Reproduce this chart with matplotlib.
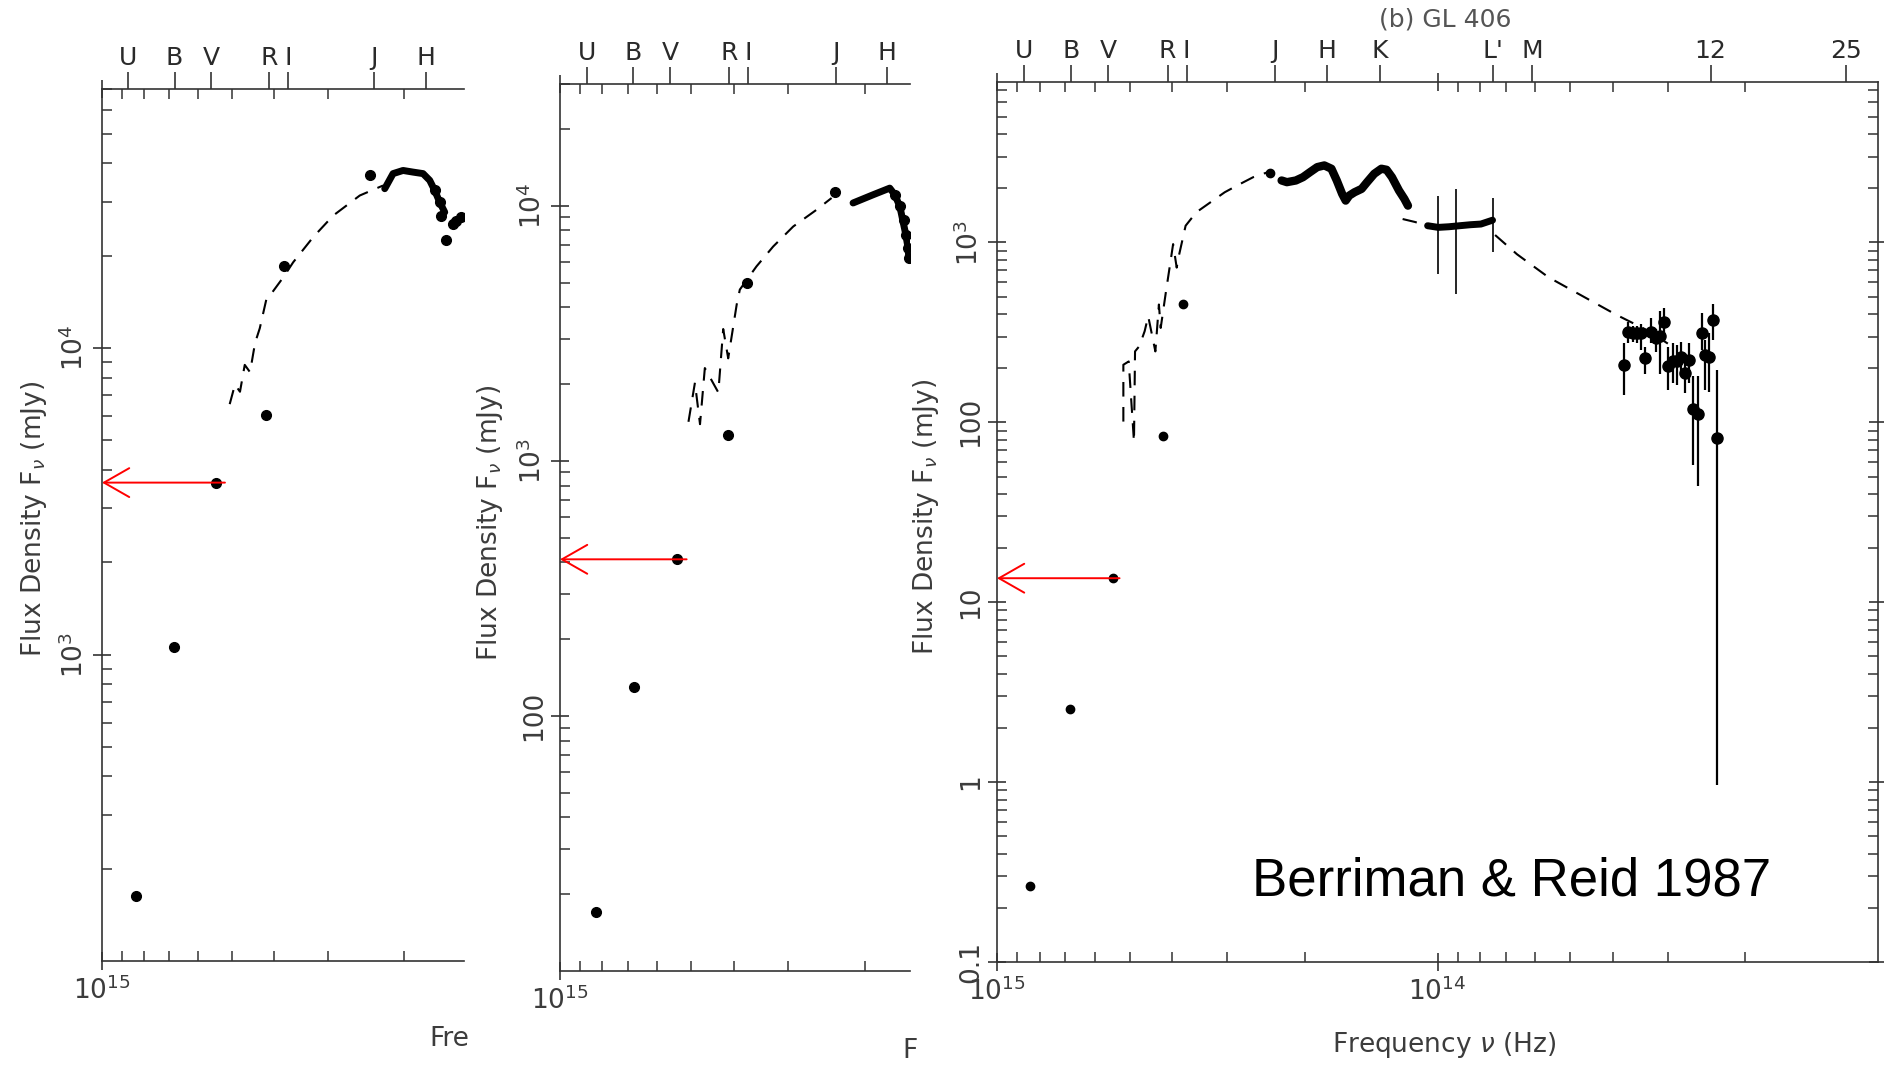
import matplotlib
matplotlib.use("Agg")
import matplotlib.pyplot as plt
from matplotlib.ticker import FixedLocator, FixedFormatter, NullLocator, LogLocator, NullFormatter

# ---------------- data ----------------
band_nu = [8.69e14, 6.79e14, 5.59e14, 4.10e14, 3.71e14, 2.34e14, 1.78e14,
           1.35e14, 7.48e13, 6.09e13, 2.40e13, 1.18e13]
band_labels = ['U', 'B', 'V', 'R', 'I', 'J', 'H', 'K', "L'", 'M', '12', '25']

# panel 1
p1_phot_nu = [8.34e14, 6.82e14, 5.45e14, 4.17e14, 3.79e14, 2.39e14]
p1_phot_F = [163, 1059, 3638, 6060, 18460, 36700]
p1_dash_nu = [5.06e14, 4.92e14, 4.79e14, 4.67e14, 4.54e14, 4.42e14, 4.31e14, 4.16e14,
              4.085e14, 3.803e14, 3.606e14, 3.242e14, 2.914e14, 2.528e14, 2.233e14]
p1_dash_F = [6560, 7600, 7200, 8810, 8340, 10390, 11600, 14450,
             14820, 17000, 19050, 23000, 27040, 31450, 33900]
p1_spec_nu = [2.213e14, 2.117e14, 2.007e14, 1.902e14, 1.804e14, 1.741e14, 1.695e14,
              1.651e14, 1.607e14]
p1_spec_F = [33100, 37070, 37960, 37490, 37070, 35240, 32660, 29930, 27740]
p1_dots_nu = [1.695e14, 1.651e14, 1.636e14, 1.593e14, 1.537e14, 1.51e14, 1.47e14]
p1_dots_F = [32660, 29930, 26900, 22430, 25410, 26000, 26720]

# panel 2
p2_phot_nu = [8.27e14, 6.77e14, 5.41e14, 4.12e14, 3.73e14, 2.35e14]
p2_phot_F = [17.0, 130, 411, 1264, 5000, 11270]
p2_dash_nu = [5.08e14, 4.91e14, 4.78e14, 4.66e14, 4.34e14, 4.23e14, 4.12e14, 3.94e14,
              3.875e14, 3.55e14, 3.25e14, 2.924e14, 2.586e14, 2.389e14]
p2_dash_F = [1422, 2023, 1392, 2310, 1853, 3285, 2522, 4093,
             4690, 5780, 6920, 8290, 9640, 10720]
p2_spec_nu = [2.133e14, 1.919e14, 1.758e14, 1.712e14, 1.667e14, 1.615e14, 1.596e14, 1.590e14]
p2_spec_F = [10250, 11040, 11720, 11040, 9940, 7690, 6820, 6230]
p2_dots_nu = [1.712e14, 1.667e14, 1.63e14, 1.615e14, 1.596e14, 1.590e14]
p2_dots_F = [11040, 9940, 8800, 7690, 6820, 6230]

# panel 3 (GL 406)
p3_phot_nu = [8.4e14, 6.83e14, 5.45e14, 4.19e14, 3.79e14, 2.40e14]
p3_phot_F = [0.264, 2.54, 13.6, 83.8, 456, 2427]
p3_dash_nu = [5.166e14, 5.166e14, 5.024e14, 4.887e14, 4.860e14, 4.753e14, 4.622e14, 4.537e14,
              4.370e14, 4.290e14, 4.250e14, 4.133e14, 4.057e14, 3.983e14, 3.909e14, 3.873e14,
              3.731e14, 3.529e14, 3.276e14, 3.041e14, 2.822e14, 2.620e14, 2.388e14]
p3_dash_F = [101, 209, 218, 78, 248, 265, 321, 389, 248, 452, 335, 537, 725, 979, 725, 824,
             1239, 1471, 1673, 1902, 2100, 2307, 2493]
p3_spec_nu = [2.259e14, 2.197e14, 2.097e14, 2.020e14, 1.947e14, 1.875e14, 1.807e14, 1.741e14,
              1.693e14, 1.646e14, 1.616e14, 1.586e14, 1.543e14, 1.487e14, 1.445e14, 1.392e14,
              1.341e14, 1.305e14, 1.269e14, 1.223e14, 1.189e14, 1.167e14]
p3_spec_F = [2211, 2164, 2211, 2307, 2461, 2624, 2681, 2570, 2211, 1862, 1709, 1823, 1902,
             1986, 2164, 2409, 2570, 2536, 2307, 1944, 1746, 1602]
p3_gap_nu = [1.20e14, 1.125e14, 1.053e14]
p3_gap_F = [1350, 1300, 1239]
p3_L_nu = [1.053e14, 9.96e13, 9.42e13, 8.91e13, 8.42e13, 7.97e13, 7.5e13]
p3_L_F = [1239, 1213, 1223, 1239, 1255, 1266, 1330]
p3_Lerr_nu = [9.96e13, 9.1e13, 7.5e13]
p3_Lerr_F = [1213, 1235, 1330]
p3_Lerr_lo = [665, 514, 880]
p3_Lerr_hi = [1820, 1990, 1770]
p3_tail_nu = [7.4e13, 6.6e13, 5.6e13, 4.6e13, 3.94e13, 3.3e13, 3.0e13]
p3_tail_F = [1100, 860, 641, 491, 398, 320, 274]
p3_mir_nu = [3.776e13, 3.685e13, 3.603e13, 3.523e13, 3.45e13, 3.379e13, 3.275e13, 3.19e13,
             3.118e13, 3.054e13, 2.991e13, 2.925e13, 2.859e13, 2.801e13, 2.743e13, 2.681e13,
             2.625e13, 2.567e13, 2.515e13, 2.472e13, 2.415e13, 2.374e13, 2.325e13]
p3_mir_F = [209, 318, 315, 313, 313, 227, 318, 294, 301, 362, 207, 219, 219, 231, 189, 221,
            119, 112, 315, 238, 231, 370, 81.7]
p3_mir_hi = [275, 362, 345, 345, 354, 262, 379, 330, 415, 434, 262, 275, 269, 281, 229, 275,
             182, 182, 405, 288, 315, 455, 195]
p3_mir_lo = [142, 275, 281, 275, 251, 186, 275, 245, 186, 308, 151, 166, 162, 182, 145, 166,
             58, 44, 251, 152, 148, 288, 0.96]

# V-band arrows (right end frequency)
arrow_end_nu = [5.19e14, 5.13e14, 5.27e14]

# ---------------- figure ----------------
W, H = 1884, 1065
fig = plt.figure(figsize=(W / 100, H / 100), dpi=100)
fig.patch.set_facecolor('white')
TXT = '#3c3c3c'
plt.rcParams['font.family'] = ['DejaVu Sans']
plt.rcParams['mathtext.fontset'] = 'dejavusans'


def rect(l, r, t, b):
    return [l / W, 1 - b / H, (r - l) / W, (b - t) / H]


def make_panel(pos, xlim, ylim, ylabels, xlabels, right_spine):
    ax = fig.add_axes(pos)
    ax.set_xscale('log')
    ax.set_yscale('log')
    ax.set_xlim(*xlim)
    ax.set_ylim(*ylim)
    for s in ax.spines.values():
        s.set_linewidth(1.2)
        s.set_color('#333333')
    if not right_spine:
        ax.spines['right'].set_visible(False)
    ax.yaxis.set_major_locator(FixedLocator(list(ylabels.keys())))
    ax.yaxis.set_major_formatter(FixedFormatter(list(ylabels.values())))
    ax.yaxis.set_minor_locator(LogLocator(base=10, subs=range(2, 10), numticks=30))
    ax.yaxis.set_minor_formatter(NullFormatter())
    ax.xaxis.set_major_locator(FixedLocator(list(xlabels.keys())))
    ax.xaxis.set_major_formatter(FixedFormatter(list(xlabels.values())))
    ax.xaxis.set_minor_locator(LogLocator(base=10, subs=range(2, 10), numticks=30))
    ax.xaxis.set_minor_formatter(NullFormatter())
    axb = ax.twiny()
    axb.set_xscale('log')
    axb.set_xlim(*xlim)
    sel = [(n, l) for n, l in zip(band_nu, band_labels) if xlim[1] <= n <= xlim[0]]
    axb.xaxis.set_major_locator(FixedLocator([s[0] for s in sel]))
    axb.xaxis.set_major_formatter(FixedFormatter([s[1] for s in sel]))
    axb.xaxis.set_minor_locator(NullLocator())
    axb.tick_params(axis='x', which='major', direction='out', length=12, width=1.2,
                    labelsize=18, pad=2, colors='#333333', labelcolor='#2a2a2a')
    for s in axb.spines.values():
        s.set_visible(False)
    ax.tick_params(axis='both', which='major', direction='inout', length=13, width=1.2,
                   colors='#333333', labelcolor=TXT, labelsize=19)
    ax.tick_params(axis='both', which='minor', direction='in', length=7, width=1.1,
                   colors='#333333')
    ax.tick_params(axis='x', which='both', top=True, bottom=True)
    ax.tick_params(axis='y', which='both', left=True, right=right_spine)
    ax.tick_params(axis='y', which='major', pad=3)
    ax.tick_params(axis='x', which='major', pad=5)
    for lab in ax.get_yticklabels():
        lab.set_rotation(90)
        lab.set_va('center')
    return ax


def draw_arrow(ax, nu_end, F):
    ax.annotate('', xy=(1e15, F), xytext=(nu_end, F), annotation_clip=False,
                arrowprops=dict(arrowstyle='->,head_length=1.4,head_width=0.8', color='red',
                                lw=1.4, mutation_scale=13, shrinkA=0, shrinkB=0), zorder=6)


dash = (0, (7, 5))

# ---- panel 1 ----
ax1 = make_panel(rect(102, 464, 89, 961), (1e15, 1.45e14), (100, 7e4),
                 {1e3: '$10^3$', 1e4: '$10^4$'}, {1e15: '$10^{15}$'}, False)
ax1.plot(p1_dash_nu, p1_dash_F, color='k', lw=1.5, ls=dash)
ax1.plot(p1_spec_nu, p1_spec_F, color='k', lw=5, solid_capstyle='round')
ax1.plot(p1_dots_nu, p1_dots_F, 'o', color='k', ms=7)
ax1.plot(p1_phot_nu, p1_phot_F, 'o', color='k', ms=7)
draw_arrow(ax1, arrow_end_nu[0], p1_phot_F[2])

# ---- panel 2 ----
ax2 = make_panel(rect(560, 910, 84, 971), (1e15, 1.58e14), (10, 3e4),
                 {1e2: '100', 1e3: '$10^3$', 1e4: '$10^4$'}, {1e15: '$10^{15}$'}, False)
ax2.plot(p2_dash_nu, p2_dash_F, color='k', lw=1.5, ls=dash)
ax2.plot(p2_spec_nu, p2_spec_F, color='k', lw=5, solid_capstyle='round')
ax2.plot(p2_dots_nu, p2_dots_F, 'o', color='k', ms=7)
ax2.plot(p2_phot_nu, p2_phot_F, 'o', color='k', ms=7)
draw_arrow(ax2, arrow_end_nu[1], p2_phot_F[2])

# ---- panel 3 ----
ax3 = make_panel(rect(997, 1878, 82, 962), (1e15, 1e13), (0.1, 7.8e3),
                 {0.1: '0.1', 1: '1', 10: '10', 100: '100', 1e3: '$10^3$'},
                 {1e15: '$10^{15}$', 1e14: '$10^{14}$'}, True)
ax3.plot(p3_dash_nu, p3_dash_F, color='k', lw=1.5, ls=dash)
ax3.plot(p3_spec_nu, p3_spec_F, color='k', lw=6, solid_capstyle='round')
ax3.plot(p3_gap_nu, p3_gap_F, color='k', lw=1.5, ls=dash)
ax3.plot(p3_L_nu, p3_L_F, color='k', lw=5, solid_capstyle='round')
ax3.errorbar(p3_Lerr_nu, p3_Lerr_F,
             yerr=[[f - lo for f, lo in zip(p3_Lerr_F, p3_Lerr_lo)],
                   [hi - f for f, hi in zip(p3_Lerr_F, p3_Lerr_hi)]],
             fmt='none', ecolor='k', elinewidth=1.2, capsize=0)
ax3.plot(p3_tail_nu, p3_tail_F, color='k', lw=1.5, ls=dash)
ax3.errorbar(p3_mir_nu, p3_mir_F,
             yerr=[[f - lo for f, lo in zip(p3_mir_F, p3_mir_lo)],
                   [hi - f for f, hi in zip(p3_mir_F, p3_mir_hi)]],
             fmt='o', color='k', ms=8, elinewidth=1.6, capsize=0)
ax3.plot(p3_phot_nu, p3_phot_F, 'o', color='k', ms=6)
draw_arrow(ax3, arrow_end_nu[2], p3_phot_F[2])

# ---------------- texts ----------------
ylab = 'Flux Density F$_\\nu$ (mJy)'
for x, y in [(34, 519), (490, 523), (926, 517)]:
    fig.text(x / W, 1 - y / H, ylab, rotation=90, ha='center', va='center',
             fontsize=19, color=TXT)
fig.text(1444 / W, 1 - 1045 / H, 'Frequency $\\nu$ (Hz)', ha='center', va='center',
         fontsize=19, color=TXT)
fig.text(429 / W, 1 - 1039 / H, 'Fre', ha='left', va='center', fontsize=19, color=TXT)
fig.text(902 / W, 1 - 1051 / H, 'F', ha='left', va='center', fontsize=19, color=TXT)
fig.text(1445 / W, 1 - 20 / H, '(b) GL 406', ha='center', va='center', fontsize=18,
         color='#555555')
fig.text(1252 / W, 1 - 881 / H, 'Berriman & Reid 1987', ha='left', va='center',
         fontsize=38, color='black', family=['Liberation Sans', 'DejaVu Sans'])

fig.savefig('out.png', dpi=100, facecolor='white')
